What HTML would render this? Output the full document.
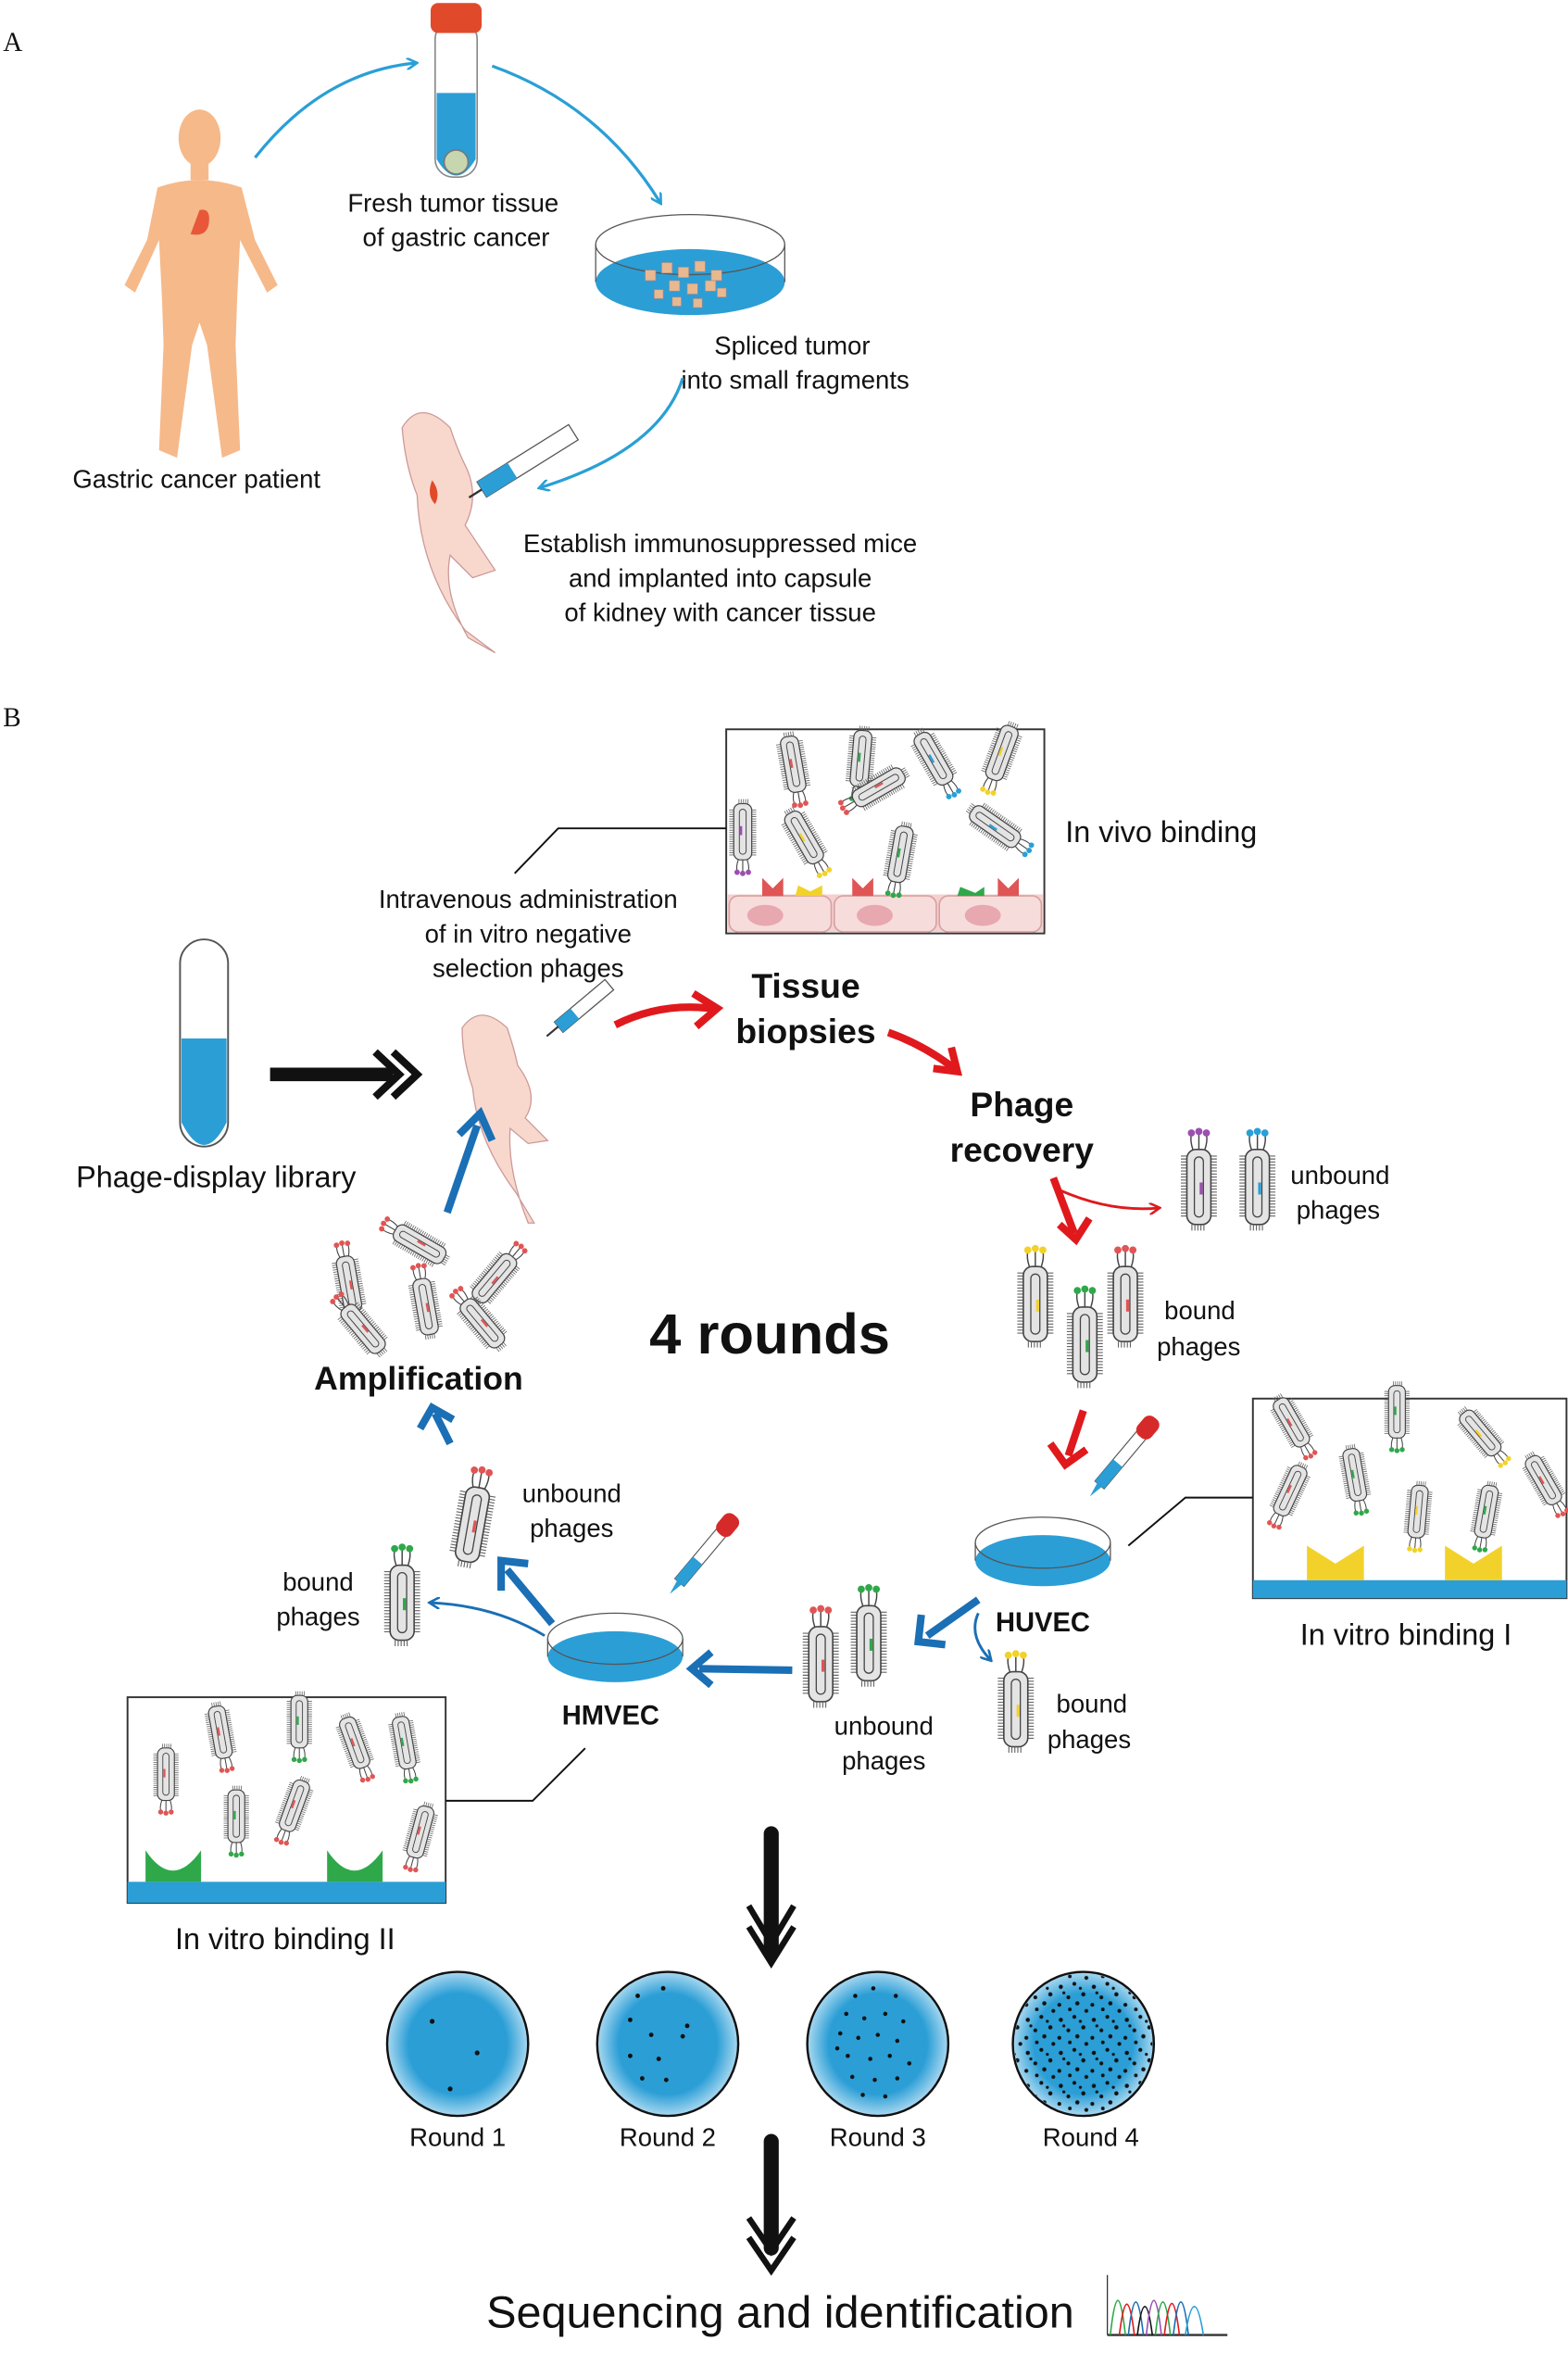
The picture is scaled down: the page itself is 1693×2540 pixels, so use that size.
<!DOCTYPE html>
<html><head><meta charset="utf-8"><style>
html,body{margin:0;padding:0;background:#fff}
svg{display:block}
text{font-family:"Liberation Sans",Arial,sans-serif;fill:#111}
</style></head><body>
<svg width="1693" height="2540" viewBox="0 0 1045 1568" preserveAspectRatio="none" xmlns="http://www.w3.org/2000/svg">
<defs>
<marker id="ab" markerWidth="8" markerHeight="8" refX="6" refY="4" orient="auto" markerUnits="userSpaceOnUse"><path d="M0,0 L7,4 L0,8" fill="none" stroke="#2a9fd6" stroke-width="1.6"/></marker>
<marker id="ar" markerWidth="8" markerHeight="8" refX="6" refY="4" orient="auto" markerUnits="userSpaceOnUse"><path d="M0,0 L7,4 L0,8" fill="none" stroke="#e0191d" stroke-width="1.6"/></marker>
<marker id="abl" markerWidth="8" markerHeight="8" refX="6" refY="4" orient="auto" markerUnits="userSpaceOnUse"><path d="M0,0 L7,4 L0,8" fill="none" stroke="#1a6fb5" stroke-width="1.6"/></marker>
<g id="ph">
 <line x1="-10" y1="-20" x2="-10" y2="22" stroke="#666" stroke-width="4" stroke-dasharray="0.7 1.3"/>
 <line x1="10" y1="-20" x2="10" y2="22" stroke="#666" stroke-width="4" stroke-dasharray="0.7 1.3"/>
 <rect x="-8" y="-24" width="16" height="50" rx="6" fill="#e4e4e4" stroke="#444" stroke-width="1"/>
 <rect x="-3" y="-19" width="6" height="40" rx="3" fill="none" stroke="#444" stroke-width="0.8"/>
 <rect x="0.5" y="-2" width="2" height="8" fill="currentColor"/>
 <path d="M-4,-24 Q-6,-30 -5,-34 M0,-24 L0,-35 M4,-24 Q6,-30 5,-34" stroke="#444" fill="none" stroke-width="0.9"/>
 <circle cx="-5" cy="-35" r="2.4" fill="currentColor"/><circle cx="0" cy="-36" r="2.4" fill="currentColor"/><circle cx="5" cy="-35" r="2.4" fill="currentColor"/>
 <line x1="-5" y1="28" x2="5" y2="28" stroke="#666" stroke-width="4" stroke-dasharray="0.7 1.3"/>
</g>
<radialGradient id="pl" cx="50%" cy="50%" r="50%"><stop offset="70%" stop-color="#2b9ed6"/><stop offset="100%" stop-color="#a9d8f0"/></radialGradient>
<pattern id="dots" width="22" height="22" patternUnits="userSpaceOnUse">
<circle cx="3" cy="4" r="1.4" fill="#111"/><circle cx="12" cy="2" r="1.3" fill="#111"/><circle cx="18" cy="9" r="1.4" fill="#111"/><circle cx="8" cy="11" r="1.3" fill="#111"/><circle cx="2" cy="16" r="1.3" fill="#111"/><circle cx="14" cy="15" r="1.4" fill="#111"/><circle cx="20" cy="20" r="1.3" fill="#111"/><circle cx="9" cy="19" r="1.2" fill="#111"/><circle cx="16" cy="5" r="1" fill="#111"/><circle cx="5" cy="8" r="1" fill="#111"/>
</pattern>
</defs>

<!-- Panel A -->
<text x="2" y="34" font-family="Liberation Serif" style="font-family:'Liberation Serif',serif" font-size="18">A</text>
<!-- human -->
<g fill="#f6b98a">
<ellipse cx="133" cy="92" rx="14" ry="19"/>
<rect x="127" y="108" width="12" height="12"/>
<path d="M105,125 Q133,115 161,125 L170,160 L185,190 L178,195 L160,160 L158,200 L157,230 L160,300 L148,305 L138,230 L133,215 L128,230 L118,305 L106,300 L109,230 L108,200 L106,160 L90,195 L83,190 L98,160 Z"/>
</g>
<path d="M133,140 q8,-2 6,10 q-2,8 -12,6" fill="#e8573a"/>
<text x="131" y="325" font-size="17" text-anchor="middle">Gastric cancer patient</text>
<!-- tube -->
<rect x="290" y="14" width="28" height="104" rx="12" fill="#fff" stroke="#888" stroke-width="1"/>
<path d="M291,62 L317,62 L317,106 Q304,128 291,106 Z" fill="#2b9ed6"/>
<rect x="287" y="2" width="34" height="20" rx="5" fill="#e04a2a"/>
<circle cx="304" cy="108" r="8" fill="#c8d6b0" stroke="#777"/>
<text x="302" y="141" font-size="17" text-anchor="middle">Fresh tumor tissue</text>
<text x="304" y="164" font-size="17" text-anchor="middle">of gastric cancer</text>
<path d="M170,105 Q215,48 277,42" fill="none" stroke="#2a9fd6" stroke-width="2" marker-end="url(#ab)"/>
<path d="M328,44 Q400,70 440,135" fill="none" stroke="#2a9fd6" stroke-width="2" marker-end="url(#ab)"/>
<!-- dish -->
<ellipse cx="460" cy="188" rx="63" ry="22" fill="#2b9ed6"/>
<ellipse cx="460" cy="163" rx="63" ry="20" fill="none" stroke="#555" stroke-width="0.8"/>
<line x1="397" y1="163" x2="397" y2="188" stroke="#555" stroke-width="0.8"/><line x1="523" y1="163" x2="523" y2="188" stroke="#555" stroke-width="0.8"/>
<g fill="#e8b890" stroke="#a88" stroke-width="0.4">
<rect x="430" y="180" width="7" height="7"/><rect x="441" y="175" width="7" height="7"/><rect x="452" y="178" width="7" height="7"/><rect x="463" y="174" width="7" height="7"/><rect x="474" y="180" width="7" height="7"/><rect x="446" y="187" width="7" height="7"/><rect x="458" y="189" width="7" height="7"/><rect x="470" y="187" width="7" height="7"/><rect x="436" y="193" width="6" height="6"/><rect x="448" y="198" width="6" height="6"/><rect x="462" y="199" width="6" height="6"/><rect x="478" y="192" width="6" height="6"/>
</g>
<text x="528" y="236" font-size="17" text-anchor="middle">Spliced tumor</text>
<text x="530" y="259" font-size="17" text-anchor="middle">into small fragments</text>
<path d="M455,252 Q440,300 360,325" fill="none" stroke="#2a9fd6" stroke-width="2" marker-end="url(#ab)"/>
<!-- mouse A -->
<path d="M268,285 Q280,265 300,285 Q305,300 310,310 Q320,330 310,350 L330,380 L315,385 L300,370 Q295,395 312,425 L330,435 L310,420 Q280,380 278,330 Q270,310 268,285 Z" fill="#f8d8cc" stroke="#c99" stroke-width="0.8"/>
<path d="M288,320 q6,8 2,16 q-6,-6 -2,-16" fill="#e04a2a"/>
<g transform="rotate(-32 355 305)"><rect x="315" y="299" width="72" height="12" fill="#fff" stroke="#555" stroke-width="0.8"/><rect x="315" y="299" width="24" height="12" fill="#2b9ed6"/><line x1="305" y1="305" x2="315" y2="305" stroke="#333" stroke-width="1.5"/></g>
<text x="480" y="368" font-size="17" text-anchor="middle">Establish immunosuppressed mice</text>
<text x="480" y="391" font-size="17" text-anchor="middle">and implanted into capsule</text>
<text x="480" y="414" font-size="17" text-anchor="middle">of kidney with cancer tissue</text>

<!-- Panel B -->
<text x="2" y="484" style="font-family:'Liberation Serif',serif" font-size="18">B</text>
<!-- in vivo box -->
<rect x="484" y="486" width="212" height="136" fill="#fff" stroke="#333" stroke-width="1.2"/>
<rect x="485" y="596" width="210" height="25" fill="#f5d0d0"/>
<g fill="#f7dcdc" stroke="#d8a0a0"><rect x="486" y="597" width="68" height="24" rx="6"/><rect x="556" y="597" width="68" height="24" rx="6"/><rect x="626" y="597" width="68" height="24" rx="6"/></g>
<g fill="#e8a8b0"><ellipse cx="510" cy="610" rx="12" ry="7"/><ellipse cx="583" cy="610" rx="12" ry="7"/><ellipse cx="655" cy="610" rx="12" ry="7"/></g>
<path d="M508,597 L508,585 L515,592 L522,585 L522,597Z M568,597 L568,585 L575,592 L582,585 L582,597Z M665,597 L665,585 L672,592 L679,585 L679,597Z" fill="#e05555"/>
<path d="M530,597 L532,590 L540,594 L548,590 L548,597Z" fill="#f2d22a"/><path d="M638,597 L640,591 L650,595 L656,591 L656,597Z" fill="#2fa84a"/>
<g transform="scale(0.75)">
<use href="#ph" transform="translate(705 680) rotate(170)" color="#e05555"/>
<use href="#ph" transform="translate(765 675) rotate(-175)" color="#2fa84a"/>
<use href="#ph" transform="translate(830 675) rotate(150)" color="#2a9fd6"/>
<use href="#ph" transform="translate(890 670) rotate(-160)" color="#f2d22a"/>
<use href="#ph" transform="translate(660 740) rotate(180)" color="#9b4fb0"/>
<use href="#ph" transform="translate(715 745) rotate(150)" color="#f2d22a"/>
<use href="#ph" transform="translate(780 700) rotate(-120)" color="#e05555"/>
<use href="#ph" transform="translate(800 760) rotate(190)" color="#2fa84a"/>
<use href="#ph" transform="translate(885 735) rotate(125)" color="#2a9fd6"/>
</g>
<text x="710" y="561" font-size="20">In vivo binding</text>
<polyline points="484,552 372,552 343,582" fill="none" stroke="#111" stroke-width="1.2"/>
<text x="352" y="605" font-size="17" text-anchor="middle">Intravenous administration</text>
<text x="352" y="628" font-size="17" text-anchor="middle">of in vitro negative</text>
<text x="352" y="651" font-size="17" text-anchor="middle">selection phages</text>
<!-- library tube -->
<rect x="120" y="626" width="32" height="138" rx="16" fill="#fff" stroke="#555" stroke-width="1.2"/>
<path d="M121,692 L151,692 L151,748 Q136,778 121,748Z" fill="#2b9ed6"/>
<text x="144" y="791" font-size="20" text-anchor="middle">Phage-display library</text>
<line x1="180" y1="716" x2="262" y2="716" stroke="#111" stroke-width="9"/>
<path d="M250,701 L266,716 L250,731 M262,701 L278,716 L262,731" fill="none" stroke="#111" stroke-width="5"/>
<!-- mouse B -->
<path d="M308,685 Q320,668 338,685 Q343,700 345,710 Q360,730 350,745 L365,760 L352,762 L340,752 Q338,780 352,815 L356,815 L344,795 Q318,760 315,725 Q308,705 308,685 Z" fill="#f8d8cc" stroke="#c99" stroke-width="0.8"/>
<g transform="rotate(-40 388 672)"><rect x="368" y="667" width="44" height="9" fill="#fff" stroke="#555" stroke-width="0.8"/><rect x="368" y="667" width="14" height="9" fill="#2b9ed6"/><line x1="358" y1="671" x2="368" y2="671" stroke="#333" stroke-width="1.3"/></g>
<!-- red arrows -->
<path d="M410,683 Q440,668 474,672" fill="none" stroke="#e0191d" stroke-width="5"/><path d="M462,662 L478,672 L464,684" fill="none" stroke="#e0191d" stroke-width="5"/>
<text x="537" y="665" font-size="23" font-weight="bold" text-anchor="middle">Tissue</text>
<text x="537" y="695" font-size="23" font-weight="bold" text-anchor="middle">biopsies</text>
<path d="M592,688 Q615,696 636,712" fill="none" stroke="#e0191d" stroke-width="5"/><path d="M622,712 L638,714 L634,698" fill="none" stroke="#e0191d" stroke-width="5"/>
<text x="681" y="744" font-size="23" font-weight="bold" text-anchor="middle">Phage</text>
<text x="681" y="774" font-size="23" font-weight="bold" text-anchor="middle">recovery</text>
<line x1="702" y1="785" x2="716" y2="822" stroke="#e0191d" stroke-width="5"/><path d="M706,816 L717,826 L726,812" fill="none" stroke="#e0191d" stroke-width="5"/>
<path d="M706,793 Q740,808 772,805" fill="none" stroke="#e0191d" stroke-width="1.8" marker-end="url(#ar)"/>
<use href="#ph" transform="translate(799 790)" color="#9b4fb0"/>
<use href="#ph" transform="translate(838 790)" color="#2a9fd6"/>
<text x="860" y="789" font-size="17">unbound</text>
<text x="864" y="812" font-size="17">phages</text>
<use href="#ph" transform="translate(690 868)" color="#f2d22a"/>
<use href="#ph" transform="translate(723 895)" color="#2fa84a"/>
<use href="#ph" transform="translate(750 868)" color="#e05555"/>
<text x="776" y="879" font-size="17">bound</text>
<text x="771" y="903" font-size="17">phages</text>
<text x="513" y="902" font-size="38" font-weight="bold" text-anchor="middle">4 rounds</text>
<line x1="722" y1="940" x2="712" y2="970" stroke="#e0191d" stroke-width="5"/><path d="M700,962 L710,976 L724,966" fill="none" stroke="#e0191d" stroke-width="5"/>
<!-- dropper 1 -->
<g transform="rotate(40 745 975)"><rect x="741" y="950" width="8" height="44" fill="#fff" stroke="#555" stroke-width="0.7"/><rect x="741" y="975" width="8" height="19" fill="#2b9ed6"/><rect x="739" y="936" width="12" height="16" rx="5" fill="#d62a2a"/><path d="M743,994 L745,1004 L747,994" fill="#2b9ed6"/></g>
<!-- HUVEC dish -->
<ellipse cx="695" cy="1040" rx="45" ry="17" fill="#2b9ed6"/>
<ellipse cx="695" cy="1028" rx="45" ry="17" fill="none" stroke="#555" stroke-width="0.8"/>
<line x1="650" y1="1028" x2="650" y2="1040" stroke="#555" stroke-width="0.8"/><line x1="740" y1="1028" x2="740" y2="1040" stroke="#555" stroke-width="0.8"/>
<text x="695" y="1087" font-size="18" font-weight="bold" text-anchor="middle">HUVEC</text>
<!-- in vitro I box -->
<rect x="835" y="932" width="209" height="133" fill="#fff" stroke="#333" stroke-width="1.2"/>
<rect x="835" y="1053" width="209" height="12" fill="#2b9ed6"/>
<path d="M871,1053 L871,1030 L890,1042 L909,1030 L909,1053Z M963,1053 L963,1030 L982,1042 L1001,1030 L1001,1053Z" fill="#f2d22a"/>
<g transform="scale(0.7)">
<use href="#ph" transform="translate(1230 1355) rotate(150)" color="#e05555"/>
<use href="#ph" transform="translate(1330 1345) rotate(180)" color="#2fa84a"/>
<use href="#ph" transform="translate(1410 1365) rotate(140)" color="#f2d22a"/>
<use href="#ph" transform="translate(1228 1420) rotate(205)" color="#e05555"/>
<use href="#ph" transform="translate(1290 1405) rotate(170)" color="#2fa84a"/>
<use href="#ph" transform="translate(1350 1440) rotate(185)" color="#f2d22a"/>
<use href="#ph" transform="translate(1415 1440) rotate(190)" color="#2fa84a"/>
<use href="#ph" transform="translate(1470 1410) rotate(150)" color="#e05555"/>
</g>
<text x="937" y="1096" font-size="20" text-anchor="middle">In vitro binding I</text>
<polyline points="835,998 790,998 752,1030" fill="none" stroke="#111" stroke-width="1.2"/>
<!-- blue arrows right side -->
<line x1="652" y1="1066" x2="618" y2="1090" stroke="#1a6fb5" stroke-width="5"/><path d="M614,1076 L612,1094 L630,1096" fill="none" stroke="#1a6fb5" stroke-width="5"/>
<path d="M652,1075 Q645,1090 660,1106" fill="none" stroke="#1a6fb5" stroke-width="1.8" marker-end="url(#abl)"/>
<use href="#ph" transform="translate(677 1138)" color="#f2d22a"/>
<text x="704" y="1141" font-size="17">bound</text>
<text x="698" y="1165" font-size="17">phages</text>
<use href="#ph" transform="translate(547 1108)" color="#e05555"/>
<use href="#ph" transform="translate(579 1094)" color="#2fa84a"/>
<text x="589" y="1156" font-size="17" text-anchor="middle">unbound</text>
<text x="589" y="1179" font-size="17" text-anchor="middle">phages</text>
<line x1="528" y1="1113" x2="466" y2="1112" stroke="#1a6fb5" stroke-width="5"/><path d="M474,1101 L461,1112 L474,1123" fill="none" stroke="#1a6fb5" stroke-width="5"/>
<!-- HMVEC dish -->
<ellipse cx="410" cy="1104" rx="45" ry="17" fill="#2b9ed6"/>
<ellipse cx="410" cy="1092" rx="45" ry="17" fill="none" stroke="#555" stroke-width="0.8"/>
<line x1="365" y1="1092" x2="365" y2="1104" stroke="#555" stroke-width="0.8"/><line x1="455" y1="1092" x2="455" y2="1104" stroke="#555" stroke-width="0.8"/>
<text x="407" y="1149" font-size="18" font-weight="bold" text-anchor="middle">HMVEC</text>
<g transform="rotate(40 465 1040)"><rect x="461" y="1015" width="8" height="44" fill="#fff" stroke="#555" stroke-width="0.7"/><rect x="461" y="1040" width="8" height="19" fill="#2b9ed6"/><rect x="459" y="1001" width="12" height="16" rx="5" fill="#d62a2a"/><path d="M463,1059 L465,1069 L467,1059" fill="#2b9ed6"/></g>
<!-- in vitro II box -->
<rect x="85" y="1131" width="212" height="137" fill="#fff" stroke="#333" stroke-width="1.2"/>
<rect x="85" y="1254" width="212" height="14" fill="#2b9ed6"/>
<path d="M97,1254 L97,1233 Q115,1260 134,1233 L134,1254Z M218,1254 L218,1233 Q236,1260 255,1233 L255,1254Z" fill="#2fa84a"/>
<g transform="scale(0.7)">
<use href="#ph" transform="translate(158 1690) rotate(180)" color="#e05555"/>
<use href="#ph" transform="translate(210 1650) rotate(170)" color="#e05555"/>
<use href="#ph" transform="translate(285 1640) rotate(180)" color="#2fa84a"/>
<use href="#ph" transform="translate(338 1660) rotate(160)" color="#e05555"/>
<use href="#ph" transform="translate(385 1660) rotate(170)" color="#2fa84a"/>
<use href="#ph" transform="translate(225 1730) rotate(180)" color="#2fa84a"/>
<use href="#ph" transform="translate(280 1720) rotate(200)" color="#e05555"/>
<use href="#ph" transform="translate(400 1745) rotate(195)" color="#e05555"/>
</g>
<text x="190" y="1299" font-size="20" text-anchor="middle">In vitro binding II</text>
<polyline points="297,1200 355,1200 390,1165" fill="none" stroke="#111" stroke-width="1.2"/>
<!-- blue arrows left -->
<line x1="368" y1="1082" x2="338" y2="1046" stroke="#1a6fb5" stroke-width="5"/><path d="M334,1060 L334,1040 L352,1042" fill="none" stroke="#1a6fb5" stroke-width="5"/>
<path d="M363,1090 Q330,1070 287,1068" fill="none" stroke="#1a6fb5" stroke-width="1.8" marker-end="url(#abl)"/>
<use href="#ph" transform="translate(268 1067)" color="#2fa84a"/>
<text x="212" y="1060" font-size="17" text-anchor="middle">bound</text>
<text x="212" y="1083" font-size="17" text-anchor="middle">phages</text>
<use href="#ph" transform="translate(315 1015) rotate(10)" color="#e05555"/>
<text x="381" y="1001" font-size="17" text-anchor="middle">unbound</text>
<text x="381" y="1024" font-size="17" text-anchor="middle">phages</text>
<line x1="300" y1="962" x2="290" y2="942" stroke="#1a6fb5" stroke-width="5"/><path d="M280,952 L288,938 L302,946" fill="none" stroke="#1a6fb5" stroke-width="5"/>
<text x="279" y="926" font-size="22" font-weight="bold" text-anchor="middle">Amplification</text>
<g transform="scale(0.75)">
<use href="#ph" transform="translate(310 1140) rotate(-10)" color="#e05555"/>
<use href="#ph" transform="translate(372 1105) rotate(-60)" color="#e05555"/>
<use href="#ph" transform="translate(378 1160) rotate(-10)" color="#e05555"/>
<use href="#ph" transform="translate(440 1135) rotate(40)" color="#e05555"/>
<use href="#ph" transform="translate(322 1180) rotate(-40)" color="#e05555"/>
<use href="#ph" transform="translate(428 1175) rotate(-40)" color="#e05555"/>
</g>
<line x1="298" y1="808" x2="318" y2="750" stroke="#1a6fb5" stroke-width="5"/><path d="M306,756 L320,742 L328,760" fill="none" stroke="#1a6fb5" stroke-width="5"/>
<!-- down arrows -->
<line x1="514" y1="1222" x2="514" y2="1300" stroke="#111" stroke-width="10" stroke-linecap="round"/>
<path d="M499,1270 L514,1295 L529,1270 M499,1284 L514,1308 L529,1284" fill="none" stroke="#111" stroke-width="4"/>
<line x1="514" y1="1427" x2="514" y2="1498" stroke="#111" stroke-width="10" stroke-linecap="round"/>
<path d="M499,1478 L514,1500 L529,1478 M499,1491 L514,1513 L529,1491" fill="none" stroke="#111" stroke-width="4"/>
<!-- plates -->
<g stroke="#111" stroke-width="1.5" fill="url(#pl)">
<ellipse cx="305" cy="1362" rx="47" ry="48"/><ellipse cx="445" cy="1362" rx="47" ry="48"/><ellipse cx="585" cy="1362" rx="47" ry="48"/><ellipse cx="722" cy="1362" rx="47" ry="48"/>
</g>
<ellipse cx="722" cy="1362" rx="46" ry="47" fill="url(#dots)"/>
<g fill="#111">
<circle cx="288" cy="1347" r="1.6"/><circle cx="318" cy="1368" r="1.6"/><circle cx="300" cy="1392" r="1.6"/>
<circle cx="425" cy="1330" r="1.5"/><circle cx="442" cy="1325" r="1.5"/><circle cx="420" cy="1346" r="1.5"/><circle cx="434" cy="1356" r="1.5"/><circle cx="455" cy="1357" r="1.5"/><circle cx="420" cy="1370" r="1.5"/><circle cx="439" cy="1372" r="1.5"/><circle cx="428" cy="1385" r="1.5"/><circle cx="444" cy="1386" r="1.5"/><circle cx="458" cy="1350" r="1.5"/>
<circle cx="570" cy="1330" r="1.4"/><circle cx="582" cy="1325" r="1.4"/><circle cx="597" cy="1330" r="1.4"/><circle cx="564" cy="1342" r="1.4"/><circle cx="576" cy="1345" r="1.4"/><circle cx="590" cy="1342" r="1.4"/><circle cx="602" cy="1347" r="1.4"/><circle cx="560" cy="1355" r="1.4"/><circle cx="572" cy="1358" r="1.4"/><circle cx="585" cy="1356" r="1.4"/><circle cx="598" cy="1360" r="1.4"/><circle cx="565" cy="1370" r="1.4"/><circle cx="580" cy="1372" r="1.4"/><circle cx="593" cy="1370" r="1.4"/><circle cx="606" cy="1375" r="1.4"/><circle cx="568" cy="1384" r="1.4"/><circle cx="583" cy="1386" r="1.4"/><circle cx="598" cy="1385" r="1.4"/><circle cx="575" cy="1396" r="1.4"/><circle cx="590" cy="1397" r="1.4"/><circle cx="558" cy="1365" r="1.4"/>
</g>
<text x="305" y="1430" font-size="17" text-anchor="middle">Round 1</text>
<text x="445" y="1430" font-size="17" text-anchor="middle">Round 2</text>
<text x="585" y="1430" font-size="17" text-anchor="middle">Round 3</text>
<text x="727" y="1430" font-size="17" text-anchor="middle">Round 4</text>
<text x="520" y="1551" font-size="30" text-anchor="middle">Sequencing and identification</text>
<!-- chromatogram -->
<line x1="738" y1="1516" x2="738" y2="1556" stroke="#333" stroke-width="0.8"/>
<line x1="738" y1="1556" x2="818" y2="1556" stroke="#333" stroke-width="1.5"/>
<g fill="none" stroke-width="1">
<path d="M740,1556 Q745,1510 750,1556" stroke="#2fa84a"/><path d="M746,1556 Q751,1515 756,1556" stroke="#e0191d"/><path d="M752,1556 Q757,1512 762,1556" stroke="#1a6fb5"/><path d="M758,1556 Q763,1518 768,1556" stroke="#111"/><path d="M764,1556 Q769,1510 774,1556" stroke="#9b4fb0"/><path d="M770,1556 Q775,1512 780,1556" stroke="#2fa84a"/><path d="M776,1556 Q781,1514 786,1556" stroke="#e0191d"/><path d="M782,1556 Q787,1512 792,1556" stroke="#1a6fb5"/><path d="M790,1556 Q796,1518 802,1556" stroke="#2a9fd6"/>
</g>
</svg>
</body></html>
